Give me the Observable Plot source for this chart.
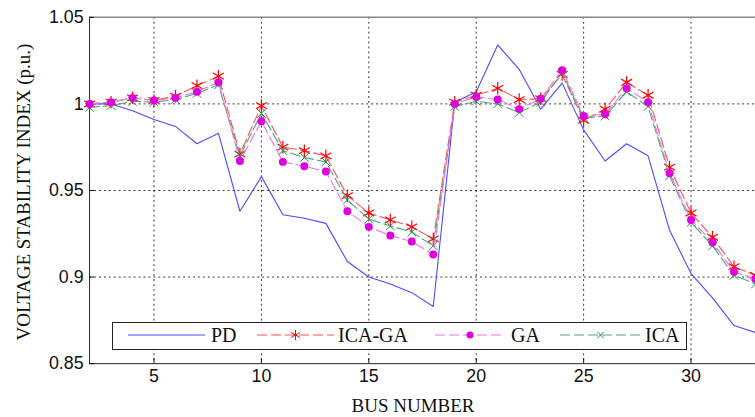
<!DOCTYPE html>
<html><head><meta charset="utf-8">
<script src="https://cdn.jsdelivr.net/npm/d3@7"></script>
<script src="https://cdn.jsdelivr.net/npm/@observablehq/plot@0.6"></script>
<style>
html,body{margin:0;padding:0;background:#fff;overflow:hidden;}
#wrap{position:relative;width:755px;height:417px;overflow:hidden;}
#wrap svg{position:absolute;left:0;top:0;}
.ttl{position:absolute;font-family:"Liberation Serif","Times New Roman",serif;font-size:19px;color:#111;white-space:nowrap;line-height:1;}
</style></head><body>
<div id="wrap"></div>
<script>
const bus = [2,3,4,5,6,7,8,9,10,11,12,13,14,15,16,17,18,19,20,21,22,23,24,25,26,27,28,29,30,31,32,33];
const pd = [1.000,1.000,0.996,0.991,0.987,0.977,0.983,0.938,0.958,0.936,0.934,0.931,0.909,0.900,0.896,0.891,0.883,1.001,1.007,1.034,1.020,0.997,1.012,0.985,0.967,0.977,0.970,0.927,0.902,0.888,0.872,0.868];
const icaGa = [1.000,1.001,1.0035,1.002,1.0045,1.0105,1.016,0.971,0.999,0.975,0.973,0.970,0.947,0.937,0.933,0.929,0.922,1.001,1.005,1.009,1.0025,1.003,1.017,0.9905,0.997,1.0125,1.005,0.9635,0.937,0.923,0.906,0.901];
const ga = [1.000,1.001,1.0035,1.002,1.0035,1.007,1.0125,0.967,0.990,0.9665,0.964,0.961,0.938,0.929,0.924,0.9205,0.913,1.000,1.004,1.0025,0.997,1.003,1.0195,0.993,0.994,1.009,1.001,0.960,0.933,0.920,0.903,0.899];
const ica = [0.998,0.999,1.0015,1.001,1.0025,1.006,1.011,0.970,0.9945,0.973,0.969,0.9665,0.9445,0.9335,0.9295,0.926,0.918,0.9985,1.0015,1.000,0.995,1.001,1.018,0.992,0.993,1.007,0.9985,0.9585,0.9315,0.918,0.901,0.896];
const seriesNames = ["PD","ICA-GA","GA","ICA"];
const xTicks = [5,10,15,20,25,30];
const yTicks = [0.85,0.9,0.95,1,1.05];
const yTickLabels = ["0.85","0.9","0.95","1","1.05"];
const yGrid = [0.9,0.95,1];
const xLabel = "BUS NUMBER";
const yLabel = "VOLTAGE STABILITY INDEX (p.u.)";

const rows = (vals) => bus.map((b,i)=>({bus:b, v:vals[i]}));
const pdRows = rows(pd), icaGaRows = rows(icaGa), gaRows = rows(ga), icaRows = rows(ica);

const C = {
  PD:{line:"#4a4aff", mark:"#4a4aff"},
  "ICA-GA":{line:"#ff5050", mark:"#ff0000"},
  GA:{line:"#ee70ee", mark:"#dd00dd"},
  ICA:{line:"#4fa57c", mark:"#1f8a55"}
};
const dash = "10,4";

const chart = Plot.plot({
  width: 763, height: 417,
  marginLeft: 90, marginRight: 0, marginTop: 17, marginBottom: 50,
  x: {domain:[2,33]},
  y: {domain:[0.85,1.05]},
  style:{fontFamily:"'Liberation Sans', Arial, sans-serif", fontSize:"18px", color:"#111", background:"#fff"},
  marks: [
    Plot.gridX(xTicks, {stroke:"#000", strokeOpacity:0.8, strokeDasharray:"2,3"}),
    Plot.gridY(yGrid, {stroke:"#000", strokeOpacity:0.8, strokeDasharray:"2,3"}),
    Plot.ruleY([1.05], {stroke:"#8a8a8a", strokeWidth:1.5}),
    Plot.ruleY([0.85], {stroke:"#222"}),
    Plot.ruleX([2], {stroke:"#222"}),
    Plot.axisY(yTicks, {tickSize:-5, tickPadding:11, tickFormat:(d)=>yTickLabels[yTicks.indexOf(d)], label:null}),
    Plot.axisX(xTicks, {tickSize:-5, tickPadding:11, label:null}),
    Plot.line(pdRows, {x:"bus", y:"v", stroke:C.PD.line, strokeWidth:1.1}),
    Plot.line(icaGaRows, {x:"bus", y:"v", stroke:C["ICA-GA"].line, strokeWidth:1.1, strokeDasharray:dash}),
    Plot.dot(icaGaRows, {x:"bus", y:"v", symbol:"asterisk", r:6, stroke:C["ICA-GA"].mark, strokeWidth:1.2}),
    Plot.line(icaRows, {x:"bus", y:"v", stroke:C.ICA.line, strokeWidth:1.1, strokeDasharray:dash}),
    Plot.dot(icaRows, {x:"bus", y:"v", symbol:"times", r:4, stroke:C.ICA.mark, strokeWidth:1}),
    Plot.line(gaRows, {x:"bus", y:"v", stroke:C.GA.line, strokeWidth:1.1, strokeDasharray:dash}),
    Plot.dot(gaRows, {x:"bus", y:"v", r:4, fill:C.GA.mark, stroke:"none"})
  ]
});
const wrap = document.getElementById("wrap");
wrap.appendChild(chart);

// axis titles
const xt = document.createElement("div");
xt.className = "ttl"; xt.textContent = xLabel;
xt.style.left = "413px"; xt.style.top = "396px"; xt.style.transform = "translateX(-50%)";
wrap.appendChild(xt);
const yt = document.createElement("div");
yt.className = "ttl"; yt.textContent = yLabel;
yt.style.left = "23px"; yt.style.top = "192px"; yt.style.transform = "translate(-50%,-50%) rotate(-90deg)";
wrap.appendChild(yt);

// legend
const lg = d3.select(wrap).append("svg").attr("width",755).attr("height",417).style("pointer-events","none");
lg.append("rect").attr("x",112.5).attr("y",322.5).attr("width",574).attr("height",27).attr("fill","#fff").attr("stroke","#222");
const entries = [
  {name:seriesNames[0], x1:128, x2:205, tx:211, sym:null},
  {name:seriesNames[1], x1:257, x2:334, tx:338, sym:d3.symbolAsterisk},
  {name:seriesNames[2], x1:435, x2:505, tx:511, sym:"dot"},
  {name:seriesNames[3], x1:560, x2:641, tx:645, sym:d3.symbolTimes}
];
const ly = 335;
entries.forEach(e=>{
  const c = C[e.name];
  lg.append("line").attr("x1",e.x1).attr("x2",e.x2).attr("y1",ly).attr("y2",ly)
    .attr("stroke",c.line).attr("stroke-width",1.2).attr("stroke-dasharray", e.sym ? dash : null);
  const mx = (e.x1+e.x2)/2;
  if (e.sym === "dot") lg.append("circle").attr("cx",mx).attr("cy",ly).attr("r",3.5).attr("fill",c.mark);
  else if (e.sym) lg.append("path").attr("d", d3.symbol(e.sym, e.sym===d3.symbolTimes?30:70)()).attr("transform",`translate(${mx},${ly})`).attr("fill","none").attr("stroke",c.mark).attr("stroke-width",1);
  lg.append("text").attr("x",e.tx).attr("y",ly+7).text(e.name)
    .attr("font-family","'Liberation Serif','Times New Roman',serif").attr("font-size",20).attr("fill","#111");
});
</script>
</body></html>
